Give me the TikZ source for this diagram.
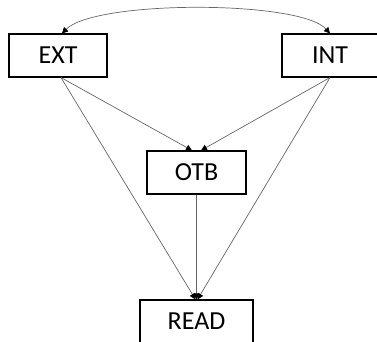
\documentclass[tikz,border=0pt]{standalone}
\usepackage{fontspec}
\setmainfont{Carlito}
\usetikzlibrary{arrows.meta,calc}
\begin{document}
\begin{tikzpicture}[x=1pt,y=-1pt,
  box/.style={draw=black,line width=1.1pt,fill=white,minimum height=43pt,inner sep=0pt,font=\fontsize{26}{30}\selectfont},
  link/.style={draw=black!60,line width=0.7pt,-{Triangle[length=6pt,width=6pt,color=black]}},
  both/.style={draw=black!60,line width=0.7pt,{Triangle[length=6pt,width=6pt,color=black]}-{Triangle[length=6pt,width=6pt,color=black]}}]
\useasboundingbox (0,0) rectangle (377,342);
\node[box,minimum width=98pt] (ext) at (58,55.5) {EXT};
\node[box,minimum width=96pt] (int) at (330,55.5) {INT};
\node[box,minimum width=99pt] (otb) at (196.5,172.5) {OTB};
\node[box,minimum width=113pt] (read) at (196.5,321.5) {READ};
\coordinate (otbL) at ($(otb.north)+(-4.5,0)$);
\coordinate (otbR) at ($(otb.north)+(4.5,0)$);
\coordinate (readL) at ($(read.north)+(-1,0)$);
\coordinate (readR) at ($(read.north)+(1,0)$);
\coordinate (extS) at ($(ext.south)+(3,0)$);
\coordinate (extN) at ($(ext.north)+(4,0)$);
\draw[both] (extN) .. controls (95,0) and (300,0) .. (int.north);
\draw[link] (extS) -- (otbL);
\draw[link] (int.south) -- (otbR);
\draw[link] (extS) -- (readL);
\draw[link] (int.south) -- (readR);
\draw[link] (otb.south) -- (read.north);
\end{tikzpicture}
\end{document}
